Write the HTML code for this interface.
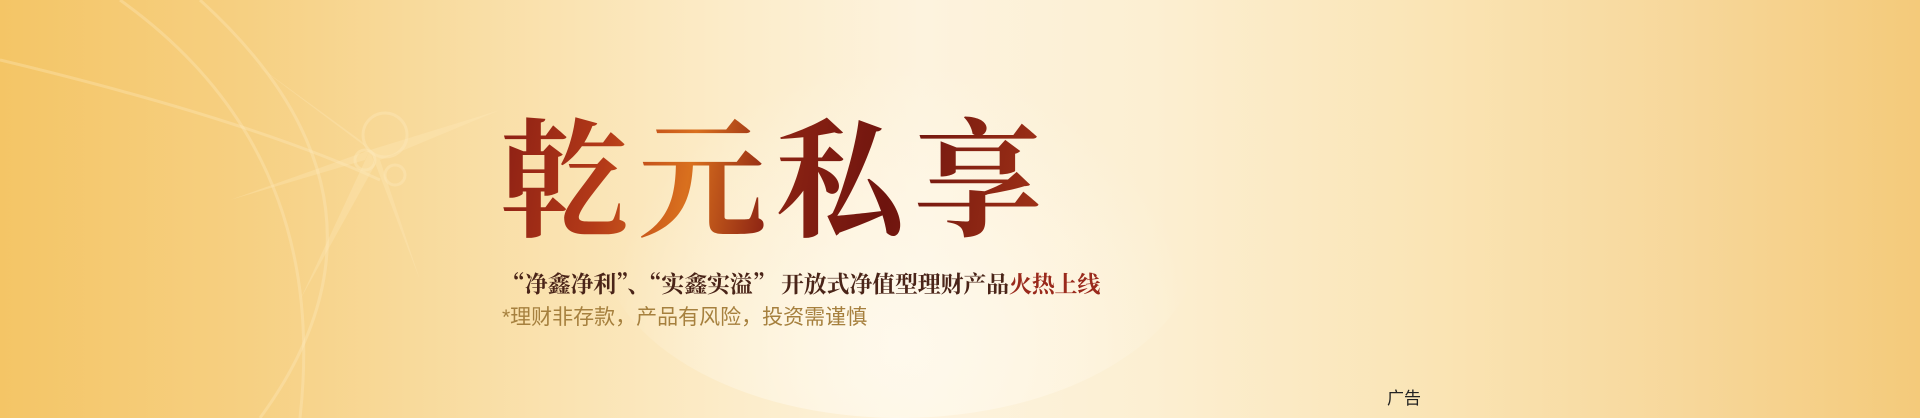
<!DOCTYPE html>
<html><head><meta charset="utf-8">
<style>
html,body{margin:0;padding:0;width:1920px;height:418px;overflow:hidden}
#banner{position:relative;width:1920px;height:418px;overflow:hidden;
background:linear-gradient(90deg,#f4c566 0%,#f6cf80 12%,#f9dea5 25%,#fcecc9 38%,#fdf3de 48%,#fcefd2 60%,#fae4b4 75%,#f7d79a 88%,#f4ca7a 100%);
font-family:"Liberation Serif","Noto Serif CJK SC",serif}
.glow{position:absolute;border-radius:50%}
#title{position:absolute;left:500px;top:96px;font-size:128px;font-weight:bold;letter-spacing:10px;line-height:150px;white-space:nowrap;
background:linear-gradient(100deg,#8a1e14 0%,#b43a18 20%,#d9701e 35%,#8c2313 50%,#6e140e 70%,#a43418 100%);
-webkit-background-clip:text;background-clip:text;color:transparent;font-family:"Noto Serif CJK SC",serif}
#sub{position:absolute;left:502px;top:266px;font-size:23px;font-weight:bold;color:#4a2418;white-space:nowrap;font-family:"Noto Serif CJK SC",serif;letter-spacing:-0.2px}
#sub .hot{color:#9a2a1c}
#note{position:absolute;left:502px;top:301px;font-size:21px;color:#a6803e;white-space:nowrap;font-family:"Liberation Sans","Noto Sans CJK SC",sans-serif}
#ad{position:absolute;left:1387px;top:384px;font-size:17px;color:#222;font-family:"Liberation Sans","Noto Sans CJK SC",sans-serif}
</style></head><body>
<div id="banner">
<div class="glow" style="left:600px;top:60px;width:600px;height:358px;background:radial-gradient(ellipse at 50% 80%,rgba(255,250,238,.9) 0%,rgba(255,248,230,0) 70%)"></div>
<svg style="position:absolute;left:0;top:0" width="560" height="418">
<g stroke="rgba(255,240,200,.3)" fill="none" stroke-width="3">
<path d="M120 0 Q330 150 300 418"/><path d="M200 0 Q420 200 260 418"/><path d="M0 60 Q250 120 380 180"/>
<circle cx="385" cy="135" r="22"/><circle cx="365" cy="160" r="10"/><circle cx="395" cy="175" r="10"/>
</g>
<g fill="rgba(255,235,190,.3)">
<path d="M370 150 L250 60 L360 140 Z"/><path d="M370 150 L500 110 L380 160 Z"/><path d="M370 150 L300 300 L375 165 Z"/><path d="M370 150 L230 200 L365 160 Z"/><path d="M370 150 L420 280 L380 160 Z"/>
</g>
</svg>
<div id="title">乾元私享</div>
<div id="sub">“净鑫净利”、“实鑫实溢” 开放式净值型理财产品<span class="hot">火热上线</span></div>
<div id="note">*理财非存款，产品有风险，投资需谨慎</div>
<div id="ad">广告</div>
</div>
</body></html>
